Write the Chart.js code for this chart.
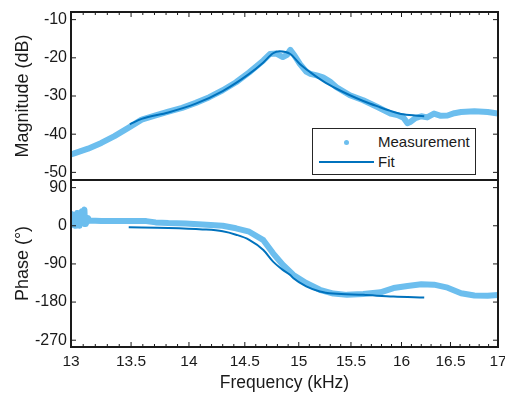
<!DOCTYPE html>
<html>
<head>
<meta charset="utf-8">
<script src="https://cdn.jsdelivr.net/npm/chart.js@4.4.0/dist/chart.umd.min.js"></script>
<style>
  body { margin: 0; background: #fff; }
  #wrap { position: relative; width: 505px; height: 394px; font-family: "Liberation Sans", Arial, sans-serif; color: #1a1a1a; }
  #top { position: absolute; left: 0; top: 0; }
  #bottom { position: absolute; left: 0; top: 180px; }
  #legend { position: absolute; left: 312px; top: 128px; width: 162px; height: 45px; border: 1px solid #262626; background: #fff; font-size: 15px; }
  .row { position: absolute; left: 0; height: 20px; line-height: 20px; }
  .row span { position: absolute; left: 65px; white-space: nowrap; }
  .dot { position: absolute; left: 31px; top: 8px; width: 5px; height: 5px; border-radius: 50%; background: rgb(108,190,238); }
  .ln { position: absolute; left: 6px; top: 9px; width: 55px; height: 2px; background: rgb(0,114,189); }
</style>
</head>
<body>
<div id="wrap">
  <canvas id="top" width="505" height="180"></canvas>
  <canvas id="bottom" width="505" height="214"></canvas>
  <div id="legend">
    <div class="row" style="top:3px"><div class="dot"></div><span>Measurement</span></div>
    <div class="row" style="top:23px"><div class="ln"></div><span>Fit</span></div>
  </div>
</div>
<script>
// measured magnitude (kHz, dB)
const magFreq = [13.00, 13.02, 13.14, 13.25, 13.36, 13.48, 13.59, 13.71, 13.82, 13.94, 14.06, 14.18, 14.30, 14.42, 14.54, 14.67, 14.73, 14.79, 14.85, 14.89, 14.92, 14.96, 15.01, 15.07, 15.11, 15.17, 15.23, 15.30, 15.36, 15.49, 15.62, 15.76, 15.89, 15.96, 16.02, 16.06, 16.09, 16.14, 16.20, 16.26, 16.33, 16.40, 16.47, 16.54, 16.61, 16.75, 16.89, 17.00];
const magMeas = [-45.3, -45.1, -43.8, -42.3, -40.5, -38.3, -36.2, -35.1, -34.1, -33.1, -31.8, -30.3, -28.5, -26.4, -23.8, -20.7, -19.0, -18.9, -19.8, -19.2, -17.9, -19.4, -21.6, -23.6, -24.2, -24.6, -25.1, -26.3, -27.7, -29.8, -31.1, -32.9, -34.6, -35.0, -35.7, -37.1, -36.8, -35.8, -35.3, -35.6, -34.6, -35.2, -35.1, -34.5, -34.2, -34.0, -34.2, -34.6];

// fitted magnitude
const fitMagFreq = [13.49, 13.59, 13.82, 14.06, 14.30, 14.54, 14.67, 14.76, 14.82, 14.92, 15.01, 15.11, 15.23, 15.36, 15.49, 15.62, 15.76, 15.89, 16.02, 16.23];
const fitMag = [-37.4, -36.0, -34.3, -32.0, -28.7, -24.2, -21.2, -18.8, -18.3, -19.0, -21.6, -23.8, -26.1, -28.1, -29.8, -31.3, -32.7, -33.9, -34.8, -35.3];

// measured phase (kHz, deg)
const phFreq = [13.00, 13.005, 13.01, 13.015, 13.02, 13.03, 13.035, 13.04, 13.05, 13.055, 13.06, 13.07, 13.075, 13.08, 13.09, 13.095, 13.10, 13.11, 13.115, 13.12, 13.13, 13.14, 13.15, 13.20, 13.25, 13.36, 13.48, 13.63, 13.71, 13.82, 13.97, 14.12, 14.30, 14.42, 14.54, 14.67, 14.76, 14.85, 14.95, 15.07, 15.20, 15.33, 15.46, 15.62, 15.79, 15.92, 16.06, 16.20, 16.33, 16.47, 16.61, 16.75, 16.89, 17.00];
const phMeas = [15, 28, 4, 24, 2, 26, 0, 20, 30, 4, 24, 0, 22, 8, 34, 6, 26, 38, 4, 20, 8, 18, 12, 12, 11, 11, 11, 11, 8, 6.3, 5.6, 3.2, 0, -6, -14, -34, -65, -92, -116, -135, -151, -160, -163, -161, -157, -147, -142, -138, -139, -146, -159, -164.5, -165, -163];

// fitted phase
const fitPhFreq = [13.48, 13.82, 14.12, 14.30, 14.42, 14.54, 14.67, 14.76, 14.85, 14.92, 14.95, 15.07, 15.20, 15.33, 15.62, 15.92, 16.23];
const fitPh = [-3.5, -5, -8.5, -13, -21, -33, -57, -84.5, -104, -116, -124, -143, -155, -160, -163, -167, -169];

const xTicks = [13, 13.5, 14, 14.5, 15, 15.5, 16, 16.5, 17];
const magTicks = [-50, -40, -30, -20, -10];
const phTicks = [-270, -180, -90, 0, 90];

const FONT = '"Liberation Sans", Arial, sans-serif';
const INK = '#1a1a1a';
const MEAS = 'rgb(108,190,238)';
const FIT = 'rgb(0,114,189)';

const minorTicks = [];
for (let i = 131; i < 170; i++) { if (i % 5) minorTicks.push(i / 10); }

const pts = (xs, ys) => xs.map((x, i) => ({ x: x, y: ys[i] }));

// box + inward ticks, MATLAB style
const frame = {
  id: 'frame',
  afterDraw(chart, args, opts) {
    const { ctx, chartArea: a, scales } = chart;
    const x = scales.x, y = scales.y;
    ctx.save();
    ctx.strokeStyle = INK;
    ctx.lineWidth = 1;
    ctx.beginPath();
    const xEdge = opts.xTicksAt === 'top' ? a.top : a.bottom;
    const dir = opts.xTicksAt === 'top' ? 1 : -1;
    xTicks.forEach(v => { const p = x.getPixelForValue(v); ctx.moveTo(p, xEdge); ctx.lineTo(p, xEdge + dir * 5); });
    minorTicks.forEach(v => { const p = x.getPixelForValue(v); ctx.moveTo(p, xEdge); ctx.lineTo(p, xEdge + dir * 3); });
    opts.yTicks.forEach(v => {
      const p = y.getPixelForValue(v);
      ctx.moveTo(a.left, p); ctx.lineTo(a.left + 5, p);
      ctx.moveTo(a.right, p); ctx.lineTo(a.right - 5, p);
    });
    ctx.stroke();
    ctx.lineWidth = 2;
    ctx.strokeRect(a.left, a.top, a.right - a.left, a.bottom - a.top);
    ctx.restore();
  }
};

function xScale(show) {
  return {
    type: 'logarithmic', min: 13, max: 17, display: show,
    afterBuildTicks: s => { s.ticks = xTicks.map(v => ({ value: v })); },
    afterFit: s => { s.paddingLeft = 0; s.paddingRight = 0; if (show) s.height = 47; },
    grid: { display: false, drawTicks: false, tickLength: 0 },
    border: { display: false },
    ticks: { autoSkip: false, maxRotation: 0, padding: 5, color: INK, font: { family: FONT, size: 15.5 }, callback: v => String(v) },
    title: { display: show, text: 'Frequency (kHz)', color: INK, font: { family: FONT, size: 17.5 }, padding: { top: 0, bottom: 0 } }
  };
}

function yScale(min, max, ticks, label) {
  return {
    min: min, max: max,
    afterBuildTicks: s => { s.ticks = ticks.map(v => ({ value: v })); },
    afterFit: s => { s.width = 66; s.paddingTop = 0; s.paddingBottom = 0; },
    grid: { display: false, drawTicks: false, tickLength: 0 },
    border: { display: false },
    ticks: { padding: 4, color: INK, font: { family: FONT, size: 16 } },
    title: { display: true, text: label, color: INK, font: { family: FONT, size: 18 }, padding: { top: 7, bottom: 0 } }
  };
}

function sets(mx, my, fx, fy) {
  return [
    { data: pts(fx, fy), borderColor: FIT, borderWidth: 2, pointRadius: 0, cubicInterpolationMode: 'monotone', order: 1 },
    { data: pts(mx, my), borderColor: MEAS, borderWidth: 6, pointRadius: 0, borderJoinStyle: 'round', borderCapStyle: 'round', order: 2 }
  ];
}

const common = {
  responsive: false,
  animation: false,
  events: []
};

new Chart(document.getElementById('top').getContext('2d'), {
  type: 'line',
  data: { datasets: sets(magFreq, magMeas, fitMagFreq, fitMag) },
  options: Object.assign({}, common, {
    layout: { padding: { top: 12, right: 7, bottom: 0, left: 5 } },
    scales: { x: xScale(false), y: yScale(-52, -8, magTicks, 'Magnitude (dB)') },
    plugins: { legend: { display: false }, tooltip: { enabled: false }, frame: { xTicksAt: 'top', yTicks: magTicks } }
  }),
  plugins: [frame]
});

new Chart(document.getElementById('bottom').getContext('2d'), {
  type: 'line',
  data: { datasets: sets(phFreq, phMeas, fitPhFreq, fitPh) },
  options: Object.assign({}, common, {
    layout: { padding: { top: 0, right: 7, bottom: 0, left: 5 } },
    scales: { x: xScale(true), y: yScale(-286, 108, phTicks, 'Phase (°)') },
    plugins: { legend: { display: false }, tooltip: { enabled: false }, frame: { xTicksAt: 'bottom', yTicks: phTicks } }
  }),
  plugins: [frame]
});
</script>
</body>
</html>
